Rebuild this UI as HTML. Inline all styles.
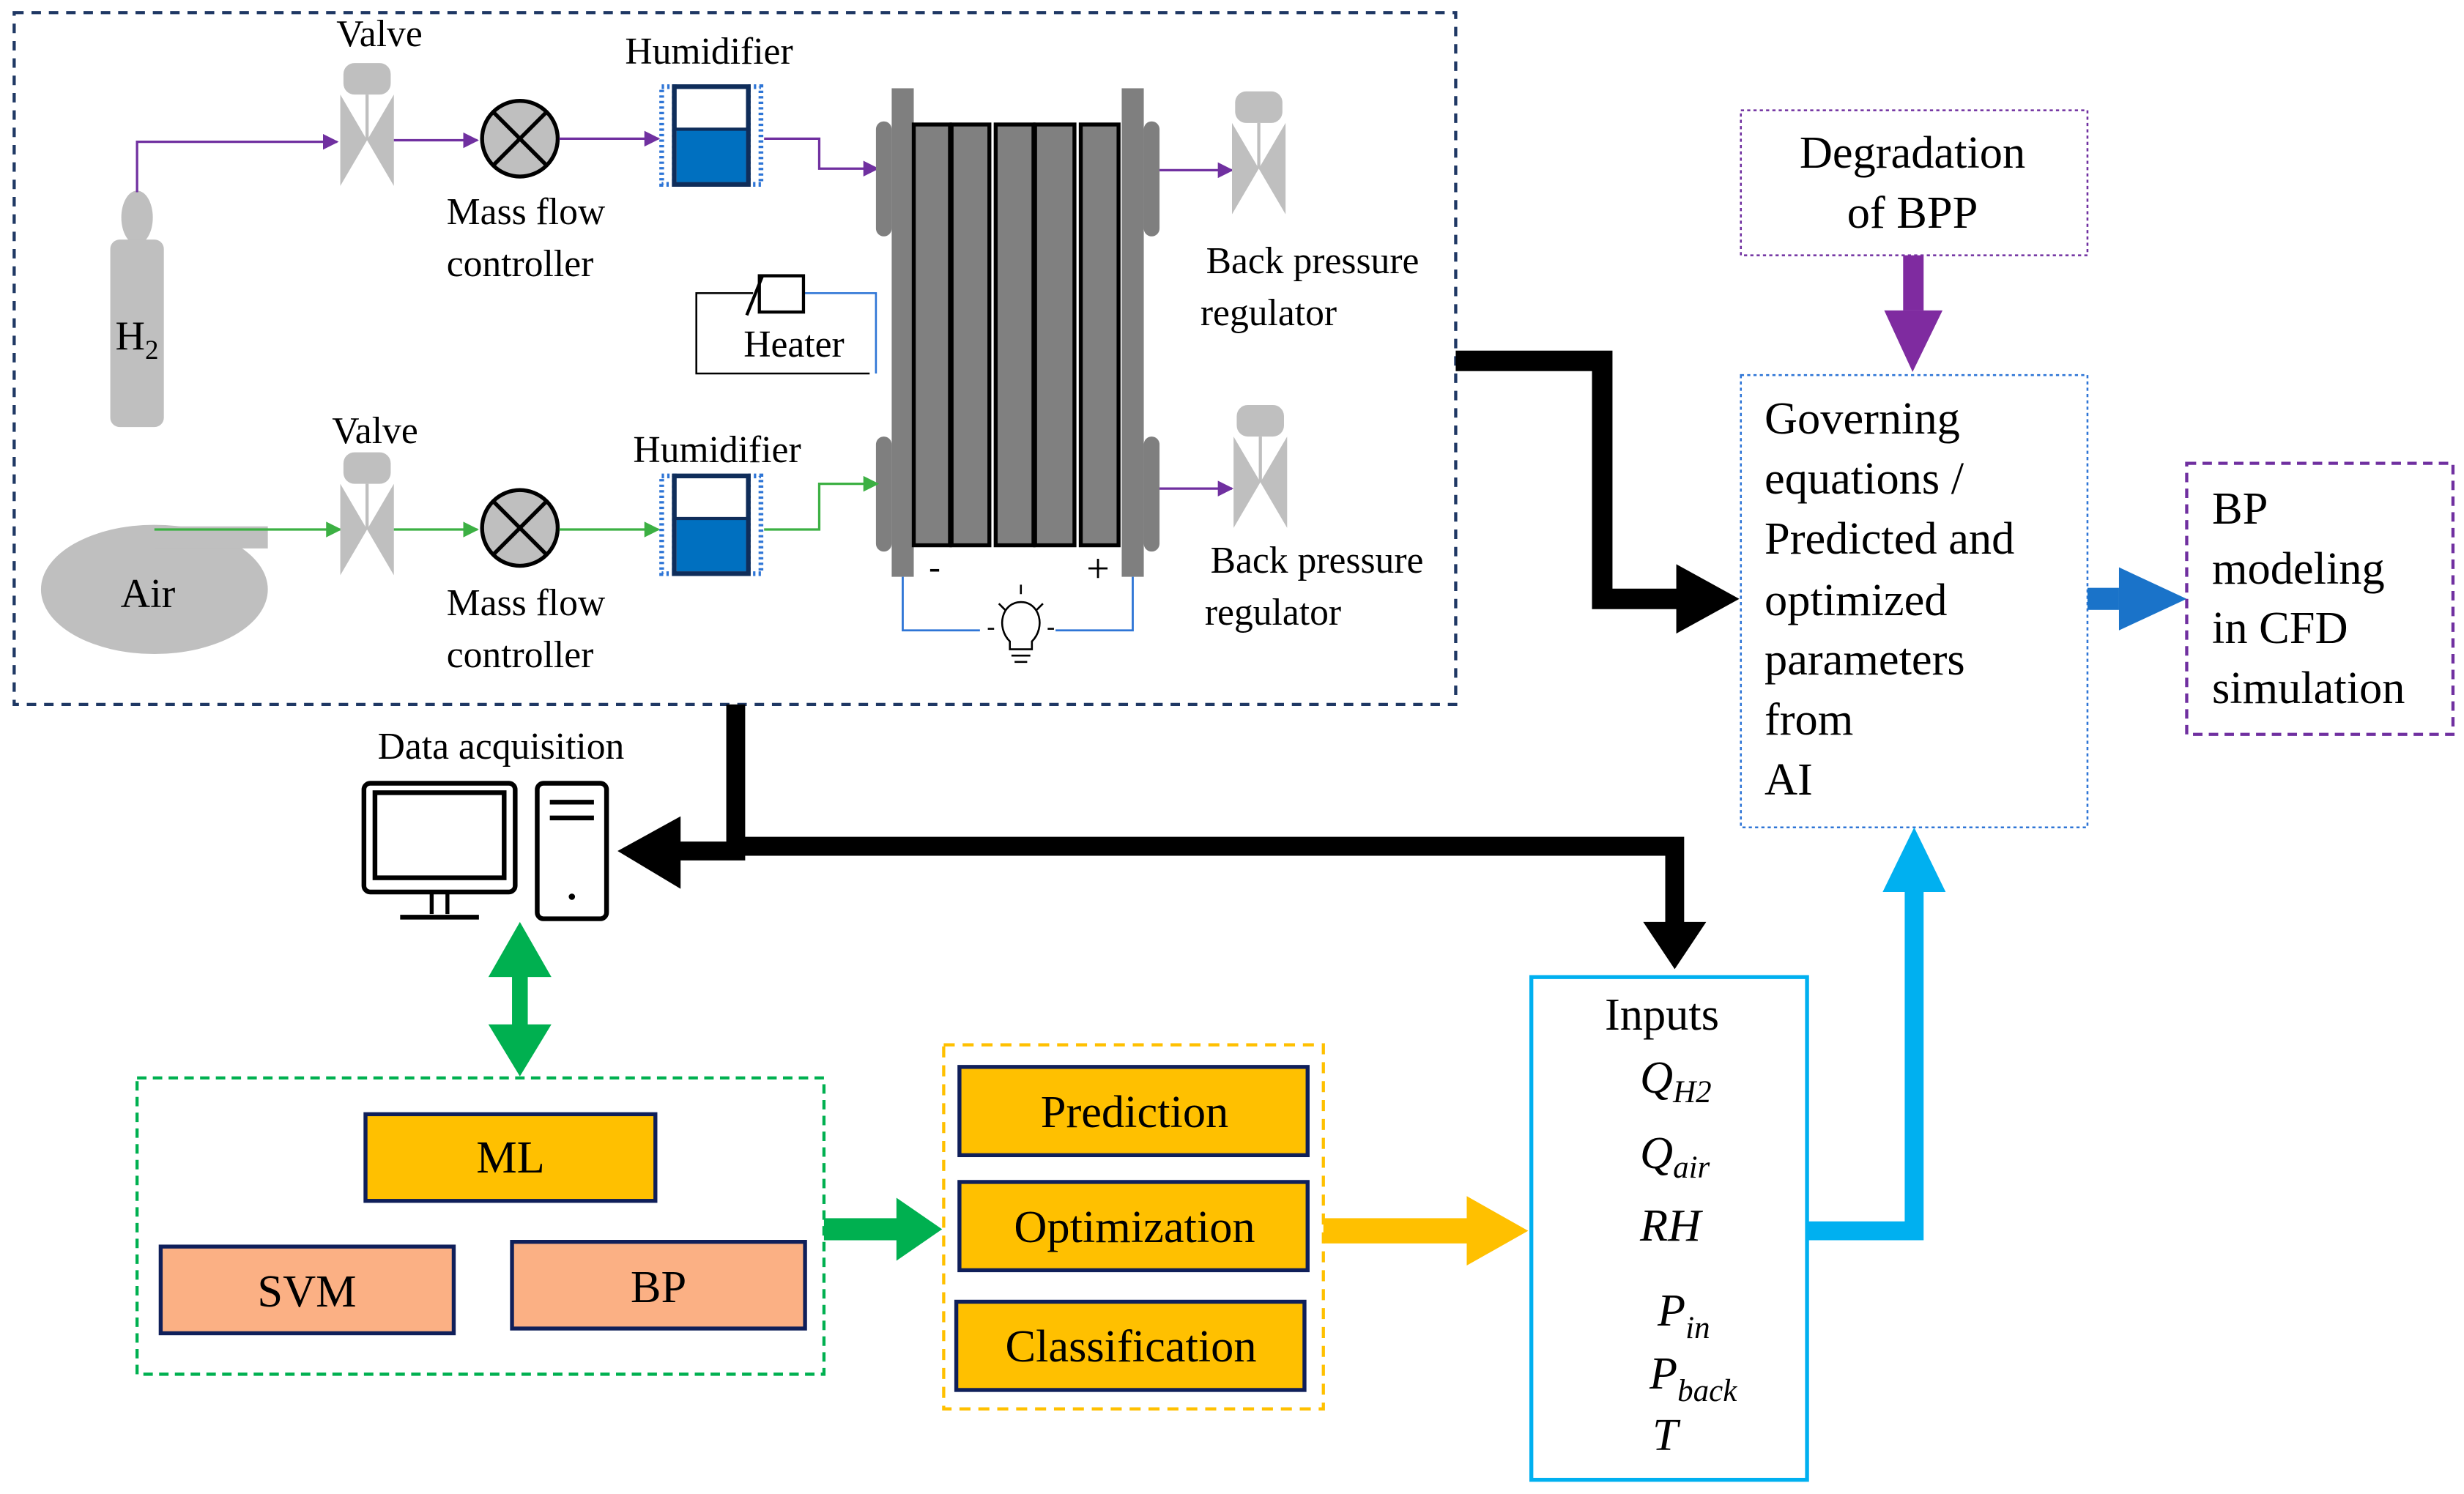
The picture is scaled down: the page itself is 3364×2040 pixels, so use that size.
<!DOCTYPE html>
<html><head><meta charset="utf-8"><style>
html,body{margin:0;padding:0;background:#fff}
#w{position:relative;width:3364px;height:2040px;overflow:hidden}
svg{display:block;position:absolute;left:0;top:0}
.t{position:absolute;font-family:"Liberation Serif","Times New Roman",serif;color:#000;white-space:nowrap;line-height:1}
.c{width:2000px;text-align:center}
.s24{font-size:51.6px}.s29{font-size:62.4px}.s26{font-size:56px}.s22{font-size:47.3px}
.i{font-style:italic}
.sub{font-size:43px;position:relative;top:13px}
.subp{font-size:43px;position:relative;top:17px}
</style></head>
<body><div id="w">
<svg width="3364" height="2040" viewBox="0 0 1564 948" preserveAspectRatio="none" xmlns="http://www.w3.org/2000/svg">
<defs>
<marker id="mp" markerWidth="10" markerHeight="10" refX="9" refY="5" orient="auto" markerUnits="userSpaceOnUse"><path d="M0,0 L10,5 L0,10 Z" fill="#7030a0"/></marker>
<marker id="mg" markerWidth="10" markerHeight="10" refX="9" refY="5" orient="auto" markerUnits="userSpaceOnUse"><path d="M0,0 L10,5 L0,10 Z" fill="#3cb043"/></marker>
<g id="valve"><rect x="-15" y="-49" width="30" height="20" rx="7" fill="#bfbfbf"/><line x1="0" y1="-29" x2="0" y2="0" stroke="#bfbfbf" stroke-width="2"/><path d="M-17,-29 L17,29 L17,-29 L-17,29 Z" fill="#bfbfbf"/></g>
<g id="mfc"><circle r="24" fill="#bfbfbf" stroke="#000" stroke-width="2.5"/><line x1="-17" y1="-17" x2="17" y2="17" stroke="#000" stroke-width="2.5"/><line x1="17" y1="-17" x2="-17" y2="17" stroke="#000" stroke-width="2.5"/></g>
<g id="hum"><rect x="-8" y="0" width="8" height="62" fill="none" stroke="#2e75d6" stroke-width="3" stroke-dasharray="1.5,2"/><rect x="47" y="0" width="8" height="62" fill="none" stroke="#2e75d6" stroke-width="3" stroke-dasharray="1.5,2"/><rect x="0" y="0" width="47" height="62" fill="#fff" stroke="#0f2d5a" stroke-width="3"/><rect x="1.5" y="27" width="44" height="33.5" fill="#0070c0"/><line x1="0" y1="27" x2="47" y2="27" stroke="#0f2d5a" stroke-width="2"/></g>
</defs>

<rect x="9" y="8" width="915" height="439" fill="none" stroke="#1f3864" stroke-width="2" stroke-dasharray="6,5"/>

<ellipse cx="87" cy="138" rx="10" ry="17" fill="#bfbfbf"/>
<rect x="70" y="152" width="34" height="119" rx="6" fill="#bfbfbf"/>

<polyline points="87,122 87,90 214,90" fill="none" stroke="#7030a0" stroke-width="1.5" marker-end="url(#mp)"/>
<use href="#valve" x="233" y="89"/>
<line x1="250" y1="89" x2="303" y2="89" stroke="#7030a0" stroke-width="1.5" marker-end="url(#mp)"/>
<use href="#mfc" x="330" y="88"/>
<line x1="355" y1="88" x2="418" y2="88" stroke="#7030a0" stroke-width="1.5" marker-end="url(#mp)"/>
<use href="#hum" x="428" y="55"/>
<polyline points="485,88 520,88 520,107 557,107" fill="none" stroke="#7030a0" stroke-width="1.5" marker-end="url(#mp)"/>

<rect x="566" y="56" width="14" height="310" fill="#7f7f7f"/>
<rect x="712" y="56" width="14" height="310" fill="#7f7f7f"/>
<rect x="556" y="77" width="10" height="73" rx="5" fill="#7f7f7f"/>
<rect x="556" y="277" width="10" height="73" rx="5" fill="#7f7f7f"/>
<rect x="726" y="77" width="10" height="73" rx="5" fill="#7f7f7f"/>
<rect x="726" y="277" width="10" height="73" rx="5" fill="#7f7f7f"/>
<g fill="#808080" stroke="#000" stroke-width="2.5">
<rect x="580" y="79" width="23" height="267"/><rect x="604" y="79" width="24" height="267"/>
<rect x="632" y="79" width="24" height="267"/><rect x="657" y="79" width="25" height="267"/>
<rect x="686" y="79" width="24" height="267"/></g>
<polyline points="573,366 573,400 622,400" fill="none" stroke="#2e75d6" stroke-width="1.3"/>
<polyline points="670,400 719,400 719,366" fill="none" stroke="#2e75d6" stroke-width="1.3"/>
<g stroke="#000" stroke-width="1.2" fill="none">
<path d="M641,407 C632,398 636,382 648,382 C660,382 664,398 655,407 L655,412 L641,412 Z"/>
<line x1="642" y1="416" x2="654" y2="416"/><line x1="644" y1="420" x2="652" y2="420"/>
<line x1="648" y1="371" x2="648" y2="377"/><line x1="634" y1="383" x2="638" y2="387"/><line x1="662" y1="383" x2="658" y2="387"/>
<line x1="627" y1="399" x2="631" y2="399"/><line x1="665" y1="399" x2="669" y2="399"/></g>

<polyline points="478,186 442,186 442,237 552,237" fill="none" stroke="#000" stroke-width="1.2"/>
<polyline points="510,186 556,186 556,237" fill="none" stroke="#2e75d6" stroke-width="1.2"/>
<rect x="482" y="175" width="28" height="23" fill="#fff" stroke="#000" stroke-width="2"/>
<line x1="484" y1="175" x2="474" y2="200" stroke="#000" stroke-width="2"/>

<line x1="736" y1="108" x2="782" y2="108" stroke="#7030a0" stroke-width="1.5" marker-end="url(#mp)"/>
<use href="#valve" x="799" y="107"/>
<line x1="736" y1="310" x2="782" y2="310" stroke="#7030a0" stroke-width="1.5" marker-end="url(#mp)"/>
<use href="#valve" x="800" y="306"/>

<ellipse cx="98" cy="374" rx="72" ry="41" fill="#bfbfbf"/>
<rect x="98" y="334" width="72" height="14" fill="#bfbfbf"/>
<line x1="98" y1="336" x2="216" y2="336" stroke="#3cb043" stroke-width="1.5" marker-end="url(#mg)"/>
<use href="#valve" x="233" y="336"/>
<line x1="250" y1="336" x2="303" y2="336" stroke="#3cb043" stroke-width="1.5" marker-end="url(#mg)"/>
<use href="#mfc" x="330" y="335"/>
<line x1="355" y1="336" x2="418" y2="336" stroke="#3cb043" stroke-width="1.5" marker-end="url(#mg)"/>
<use href="#hum" x="428" y="302"/>
<polyline points="485,336 520,336 520,307 557,307" fill="none" stroke="#3cb043" stroke-width="1.5" marker-end="url(#mg)"/>

<polyline points="924,229 1017,229 1017,380 1070,380" fill="none" stroke="#000" stroke-width="13"/>
<path d="M1064,358 L1104,380 L1064,402 Z" fill="#000"/>

<rect x="1105" y="70" width="220" height="92" fill="none" stroke="#7030a0" stroke-width="1.2" stroke-dasharray="2,2"/>
<rect x="1208" y="162" width="13" height="35" fill="#7f2ba0"/>
<path d="M1196,197 L1233,197 L1214,236 Z" fill="#7f2ba0"/>

<rect x="1105" y="238" width="220" height="287" fill="none" stroke="#2e75d6" stroke-width="1.2" stroke-dasharray="2,2"/>
<rect x="1325" y="373" width="20" height="14" fill="#1a73c9"/>
<path d="M1345,360 L1388,380 L1345,400 Z" fill="#1a73c9"/>

<rect x="1388" y="294" width="169" height="172" fill="none" stroke="#7030a0" stroke-width="2" stroke-dasharray="6,4"/>

<polyline points="467,447 467,540 425,540" fill="none" stroke="#000" stroke-width="12"/>
<path d="M432,518 L392,540 L432,564 Z" fill="#000"/>
<polyline points="467,537 1063,537 1063,590" fill="none" stroke="#000" stroke-width="12"/>
<path d="M1043,585 L1083,585 L1063,615 Z" fill="#000"/>

<rect x="231" y="497" width="96" height="69" rx="4" fill="#fff" stroke="#000" stroke-width="3"/>
<rect x="238" y="503" width="82" height="54" fill="#fff" stroke="#000" stroke-width="3"/>
<line x1="274" y1="566" x2="274" y2="580" stroke="#000" stroke-width="2.5"/><line x1="284" y1="566" x2="284" y2="580" stroke="#000" stroke-width="2.5"/>
<line x1="254" y1="582" x2="304" y2="582" stroke="#000" stroke-width="3"/>
<rect x="341" y="497" width="44" height="86" rx="4" fill="#fff" stroke="#000" stroke-width="3"/>
<line x1="349" y1="509" x2="377" y2="509" stroke="#000" stroke-width="3"/><line x1="349" y1="519" x2="377" y2="519" stroke="#000" stroke-width="3"/>
<circle cx="363" cy="569" r="2" fill="#000"/>

<rect x="325" y="610" width="10" height="50" fill="#00b050"/>
<path d="M310,620 L330,585 L350,620 Z" fill="#00b050"/>
<path d="M310,650 L330,683 L350,650 Z" fill="#00b050"/>

<rect x="87" y="684" width="436" height="188" fill="none" stroke="#00b050" stroke-width="2" stroke-dasharray="6,4"/>
<rect x="232" y="707" width="184" height="55" fill="#ffc000" stroke="#0f1f5a" stroke-width="2.5"/>
<rect x="102" y="791" width="186" height="55" fill="#fbb084" stroke="#0f1f5a" stroke-width="2.5"/>
<rect x="325" y="788" width="186" height="55" fill="#fbb084" stroke="#0f1f5a" stroke-width="2.5"/>

<rect x="523" y="773" width="48" height="14" fill="#00b050"/>
<path d="M569,760 L598,780 L569,800 Z" fill="#00b050"/>

<rect x="599" y="663" width="241" height="231" fill="none" stroke="#ffc000" stroke-width="2" stroke-dasharray="7,5"/>
<rect x="609" y="677" width="221" height="56" fill="#ffc000" stroke="#0f1f5a" stroke-width="2.5"/>
<rect x="609" y="750" width="221" height="56" fill="#ffc000" stroke="#0f1f5a" stroke-width="2.5"/>
<rect x="607" y="826" width="221" height="56" fill="#ffc000" stroke="#0f1f5a" stroke-width="2.5"/>

<rect x="840" y="773" width="93" height="16" fill="#ffc000"/>
<path d="M931,759 L970,781 L931,803 Z" fill="#ffc000"/>

<rect x="972" y="620" width="175" height="319" fill="none" stroke="#00b0f0" stroke-width="2.5"/>

<polyline points="1147,781 1215,781 1215,560" fill="none" stroke="#00b0f0" stroke-width="12"/>
<path d="M1195,566 L1215,525 L1235,566 Z" fill="#00b0f0"/>
</svg>

<div class="t c s26" style="left:-813px;top:431px">H<span style="font-size:37px;position:relative;top:13px">2</span></div>
<div class="t c s24" style="left:-482px;top:21px">Valve</div>
<div class="t c s24" style="left:-282px;top:264px">Mass flow</div>
<div class="t c s24" style="left:-290px;top:335px">controller</div>
<div class="t c s24" style="left:-32px;top:45px">Humidifier</div>
<div class="t c s24" style="left:84px;top:445px">Heater</div>
<div class="t c s24" style="left:792px;top:331px">Back pressure</div>
<div class="t c s24" style="left:732px;top:402px">regulator</div>
<div class="t c s24" style="left:798px;top:740px">Back pressure</div>
<div class="t c s24" style="left:738px;top:811px">regulator</div>
<div class="t c s26" style="left:-798px;top:783px">Air</div>
<div class="t c s24" style="left:-488px;top:563px">Valve</div>
<div class="t c s24" style="left:-282px;top:798px">Mass flow</div>
<div class="t c s24" style="left:-290px;top:869px">controller</div>
<div class="t c s24" style="left:-21px;top:589px">Humidifier</div>
<div class="t c s22" style="left:276px;top:752px">-</div>
<div class="t c s26" style="left:499px;top:749px">+</div>

<div class="t c s29" style="left:1611px;top:178px">Degradation</div>
<div class="t c s29" style="left:1611px;top:260px">of BPP</div>

<div class="t s29" style="left:2409px;top:541px">Governing</div>
<div class="t s29" style="left:2409px;top:623px">equations /</div>
<div class="t s29" style="left:2409px;top:705px">Predicted and</div>
<div class="t s29" style="left:2409px;top:789px">optimized</div>
<div class="t s29" style="left:2409px;top:870px">parameters</div>
<div class="t s29" style="left:2409px;top:952px">from</div>
<div class="t s29" style="left:2409px;top:1034px">AI</div>

<div class="t s29" style="left:3020px;top:664px">BP</div>
<div class="t s29" style="left:3020px;top:746px">modeling</div>
<div class="t s29" style="left:3020px;top:827px">in CFD</div>
<div class="t s29" style="left:3020px;top:909px">simulation</div>

<div class="t c s24" style="left:-316px;top:994px">Data acquisition</div>
<div class="t c s29" style="left:-303px;top:1550px">ML</div>
<div class="t c s29" style="left:-581px;top:1733px">SVM</div>
<div class="t c s29" style="left:-101px;top:1727px">BP</div>
<div class="t c s29" style="left:549px;top:1488px">Prediction</div>
<div class="t c s29" style="left:549px;top:1645px">Optimization</div>
<div class="t c s29" style="left:544px;top:1808px">Classification</div>
<div class="t c s29" style="left:1269px;top:1355px">Inputs</div>

<div class="t s29 i" style="left:2239px;top:1441px">Q<span class="sub">H2</span></div>
<div class="t s29 i" style="left:2239px;top:1544px">Q<span class="sub">air</span></div>
<div class="t s29 i" style="left:2239px;top:1643px">RH</div>
<div class="t s29 i" style="left:2263px;top:1759px">P<span class="subp">in</span></div>
<div class="t s29 i" style="left:2252px;top:1845px">P<span class="subp">back</span></div>
<div class="t s29 i" style="left:2256px;top:1929px">T</div>
</div></body></html>
